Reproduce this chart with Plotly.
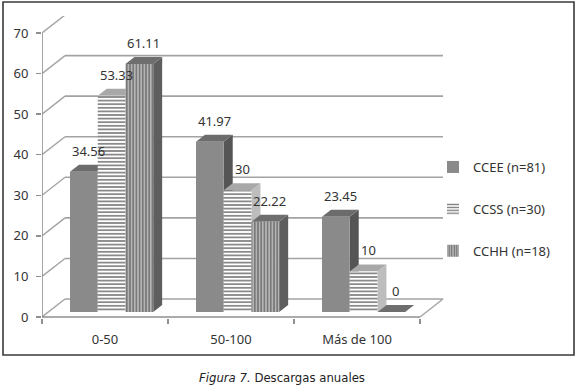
import plotly.graph_objects as go

# ---- data ----
categories = ["0-50", "50-100", "Más de 100"]
series_names = ["CCEE (n=81)", "CCSS (n=30)", "CCHH (n=18)"]
ccee = [34.56, 41.97, 23.45]
ccss = [53.33, 30, 10]
cchh = [61.11, 22.22, 0]
y_ticks = [0, 10, 20, 30, 40, 50, 60, 70]
caption = "<i>Figura 7.</i> Descargas anuales"

series = [ccee, ccss, cchh]

# ---- geometry / style ----
W, H = 580, 392
PL, PR, PT, PB = 42, 445, 16, 318      # plot area in pixels
XPU = 126.0                             # px per category unit
YPU = 4.057                             # px per value unit
Y0PX = 317                              # pixel of value 0 on the front plane
x_range = [-0.5, -0.5 + (PR - PL) / XPU]
y_range = [(Y0PX - PB) / YPU, (Y0PX - PT) / YPU]

WDX, WDY = 23 / XPU, 18 / YPU           # back wall depth shift
BASE = 5 / YPU                          # bar front face lift
BW = 0.22                               # bar width
DDX, DDY = 9 / XPU, 7 / YPU             # bar depth

font_family = "Noto Sans, Open Sans, DejaVu Sans, sans-serif"
grid_col = "#a3a3a3"

styles = [
    dict(front=dict(color="#8a8a8a"), top="#6c6c6c", side="#555555"),
    dict(front=dict(color="white", pattern=dict(shape="-", fgcolor="#7d7d7d", bgcolor="white",
                                                size=3.6, solidity=0.45, fillmode="replace")),
         top="#a8a8a8", side="#bdbdbd"),
    dict(front=dict(color="#b4b4b4", pattern=dict(shape="|", fgcolor="#6a6a6a", bgcolor="#b4b4b4",
                                                  size=3.2, solidity=0.4, fillmode="replace")),
         top="#6e6e6e", side="#5e5e5e"),
]

def ppx(px):
    return (px - PL) / (PR - PL)

def ppy(py):
    return (PB - py) / (PB - PT)

fig = go.Figure()
shapes = []

# back wall gridlines + left wall diagonals
for v in y_ticks:
    shapes.append(dict(type="line", xref="x", yref="y", layer="below",
                       x0=-0.5 + WDX, y0=v + WDY, x1=2.5 + WDX, y1=v + WDY,
                       line=dict(color=grid_col, width=1.6)))
    shapes.append(dict(type="line", xref="x", yref="y", layer="below",
                       x0=-0.5, y0=v, x1=-0.5 + WDX, y1=v + WDY,
                       line=dict(color=grid_col, width=1.4)))
# floor right diagonal
shapes.append(dict(type="line", xref="x", yref="y", layer="below",
                   x0=2.5, y0=0, x1=2.5 + WDX, y1=WDY,
                   line=dict(color=grid_col, width=1.4)))

n_series = len(series)
annotations = []
for i in range(len(categories)):
    for j in range(n_series):
        v = series[j][i]
        xl = i - 0.5 + 28 / XPU + j * BW
        xr = xl + BW
        top = BASE + v
        st = styles[j]
        # side face
        shapes.append(dict(type="path", xref="x", yref="y", layer="below",
                           path=f"M{xr},{BASE} L{xr},{top} L{xr + DDX},{top + DDY} L{xr + DDX},{BASE + DDY} Z",
                           fillcolor=st["side"], line=dict(width=0)))
        # top face
        shapes.append(dict(type="path", xref="x", yref="y", layer="below",
                           path=f"M{xl},{top} L{xr},{top} L{xr + DDX},{top + DDY} L{xl + DDX},{top + DDY} Z",
                           fillcolor=st["top"], line=dict(width=0)))
        annotations.append(dict(x=(xl + xr) / 2 + DDX / 2, y=top + DDY, xref="x", yref="y",
                                text=f"{v:g}", showarrow=False, yanchor="bottom", yshift=3,
                                font=dict(family=font_family, size=13, color="#333333")))

# front axis lines
shapes.append(dict(type="line", xref="x", yref="y", x0=-0.5, y0=0, x1=-0.5, y1=70,
                   line=dict(color="#8f8f8f", width=1.6)))
shapes.append(dict(type="line", xref="x", yref="y", x0=-0.5, y0=0, x1=2.5, y1=0,
                   line=dict(color="#8f8f8f", width=1.6)))

# outer frame
shapes.append(dict(type="rect", xref="paper", yref="paper",
                   x0=ppx(3), y0=ppy(355), x1=ppx(574), y1=ppy(2),
                   line=dict(color="#3a3a3a", width=1.6)))

for j in range(n_series):
    xs = [i - 0.5 + 28 / XPU + j * BW + BW / 2 for i in range(len(categories))]
    fig.add_trace(go.Bar(
        x=xs, y=series[j], base=BASE, width=BW, name=series_names[j],
        marker=dict(line=dict(width=0), **styles[j]["front"]),
        legendgroup=f"g{j}", hoverinfo="skip", showlegend=True))

annotations.append(dict(x=ppx(282), y=ppy(378), xref="paper", yref="paper", text=caption,
                        showarrow=False, xanchor="center", yanchor="middle",
                        font=dict(family="Liberation Sans Narrow, DejaVu Sans Condensed, sans-serif",
                                  size=13, color="#222222")))

fig.update_layout(
    width=W, height=H,
    margin=dict(l=PL, r=W - PR, t=PT, b=H - PB, pad=0),
    paper_bgcolor="white", plot_bgcolor="rgba(0,0,0,0)",
    barmode="overlay",
    showlegend=True,
    legend=dict(x=ppx(433), y=ppy(152), xanchor="left", yanchor="top",
                font=dict(family=font_family, size=13, color="#333333"),
                tracegroupgap=22, traceorder="grouped", bgcolor="rgba(0,0,0,0)",
                itemwidth=30),
    xaxis=dict(range=x_range, showgrid=False, zeroline=False, showline=False,
               tickmode="array", tickvals=list(range(len(categories))), ticktext=categories,
               ticks="", ticklen=0, ticklabelstandoff=12,
               minor=dict(tickmode="array", tickvals=[-0.5, 0.5, 1.5, 2.5], ticks="outside",
                          ticklen=5, tickcolor="#8f8f8f", tickwidth=1.4, showgrid=False),
               tickfont=dict(family=font_family, size=13, color="#333333"),
               fixedrange=True),
    yaxis=dict(range=y_range, showgrid=False, zeroline=False, showline=False,
               tickmode="array", tickvals=y_ticks, ticks="outside", ticklen=5,
               tickcolor="#8f8f8f", tickwidth=1.4, ticklabelstandoff=5,
               tickfont=dict(family=font_family, size=13, color="#333333"),
               fixedrange=True),
    shapes=shapes,
    annotations=annotations,
)

fig.write_html("out.html", post_script="document.body.style.margin='0';",
               config={"displayModeBar": False, "staticPlot": True})
